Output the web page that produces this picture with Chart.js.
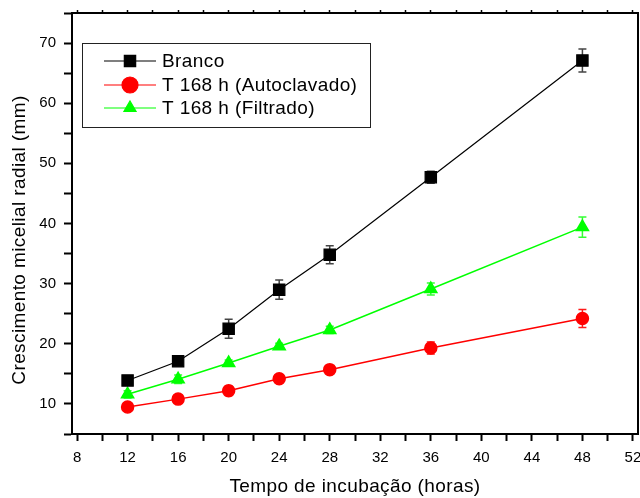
<!DOCTYPE html>
<html>
<head>
<meta charset="utf-8">
<script src="https://cdn.jsdelivr.net/npm/chart.js@4/dist/chart.umd.min.js"></script>
<style>
  html, body { margin: 0; padding: 0; background: #fff; }
  #wrap { width: 640px; height: 498px; }
</style>
</head>
<body>
<div id="wrap"><canvas id="chart" width="640" height="498"></canvas></div>
<script>
// incubation times (h)
const hours = [12, 16, 20, 24, 28, 36, 48];

// radial mycelial growth (mm) and standard errors
const branco = [13.9, 17.1, 22.5, 29.0, 34.8, 47.7, 67.1];
const brancoErr = [0.5, 0.5, 1.6, 1.6, 1.5, 1.0, 1.9];
const autoclavado = [9.5, 10.8, 12.2, 14.2, 15.7, 19.3, 24.2];
const autoclavadoErr = [0.4, 0.5, 0.8, 0.6, 0.5, 1.0, 1.5];
const filtrado = [11.6, 14.1, 16.8, 19.6, 22.3, 29.1, 39.4];
const filtradoErr = [0.6, 0.7, 0.5, 0.5, 0.6, 1.0, 1.7];

const seriesNames = ['Branco', 'T 168 h (Autoclavado)', 'T 168 h (Filtrado)'];

const xTitle = 'Tempo de incubação (horas)';
const yTitle = 'Crescimento micelial radial (mm)';

const FONT = '"Liberation Sans", Arial, Helvetica, sans-serif';

function pts(values) {
  return values.map((v, i) => ({ x: hours[i], y: v }));
}

// fixed axis thickness, no extra room for overhanging labels
function fixSize(size) {
  return s => {
    if (s.isHorizontal()) s.height = size; else s.width = size;
    s.paddingLeft = s.paddingRight = s.paddingTop = s.paddingBottom = 0;
  };
}

const errors = [brancoErr, autoclavadoErr, filtradoErr];
const errColors = ['#444444', '#ff1a1a', '#33ff33'];

// vertical error bars with caps, under the markers
const errorBars = {
  id: 'errorBars',
  beforeDatasetsDraw(chart) {
    const ctx = chart.ctx;
    const xs = chart.scales.x, ys = chart.scales.y;
    ctx.save();
    chart.data.datasets.forEach((ds, i) => {
      const err = errors[i];
      ctx.strokeStyle = errColors[i];
      ctx.lineWidth = 1.5;
      ds.data.forEach((p, j) => {
        const px = xs.getPixelForValue(p.x);
        const top = ys.getPixelForValue(p.y + err[j]);
        const bot = ys.getPixelForValue(p.y - err[j]);
        ctx.beginPath();
        ctx.moveTo(px, top); ctx.lineTo(px, bot);
        ctx.moveTo(px - 4, top); ctx.lineTo(px + 4, top);
        ctx.moveTo(px - 4, bot); ctx.lineTo(px + 4, bot);
        ctx.stroke();
      });
    });
    ctx.restore();
  }
};

// axis titles and boxed legend
const decorations = {
  id: 'decorations',
  afterDraw(chart) {
    const ctx = chart.ctx;
    ctx.save();
    ctx.fillStyle = '#000';
    ctx.font = '19px ' + FONT;
    ctx.letterSpacing = '0.4px';
    ctx.textAlign = 'center';
    ctx.textBaseline = 'middle';
    ctx.fillText(xTitle, 355, 487);
    ctx.translate(20, 240);
    ctx.rotate(-Math.PI / 2);
    ctx.fillText(yTitle, 0, 0);
    ctx.restore();

    // legend box
    ctx.save();
    ctx.strokeStyle = '#222';
    ctx.lineWidth = 1;
    ctx.strokeRect(82.5, 43.5, 288, 84);
    const rows = [61, 85, 108];
    ctx.font = '19px ' + FONT;
    ctx.letterSpacing = '0.4px';
    ctx.textAlign = 'left';
    ctx.textBaseline = 'middle';
    chart.data.datasets.forEach((ds, i) => {
      const y = rows[i];
      ctx.strokeStyle = ds.borderColor;
      ctx.lineWidth = 1.2;
      ctx.beginPath();
      ctx.moveTo(104, y); ctx.lineTo(156, y);
      ctx.stroke();
      ctx.fillStyle = ds.pointBackgroundColor;
      ctx.strokeStyle = ds.pointBorderColor;
      Chart.helpers.drawPoint(ctx, {
        pointStyle: ds.pointStyle,
        radius: i === 1 ? 8 : ds.pointRadius,
        rotation: 0,
        borderWidth: 1
      }, 130, y);
      ctx.fillStyle = '#000';
      ctx.fillText(seriesNames[i], 162, y + 1);
    });
    ctx.restore();
  }
};

const tickFont = { family: FONT, size: 15 };

new Chart(document.getElementById('chart'), {
  type: 'line',
  data: {
    datasets: [
      {
        label: seriesNames[0],
        data: pts(branco),
        borderColor: '#000000',
        borderWidth: 1.2,
        pointStyle: 'rect',
        pointRadius: 8,
        pointBackgroundColor: '#000000',
        pointBorderColor: '#000000'
      },
      {
        label: seriesNames[1],
        data: pts(autoclavado),
        borderColor: '#ff0000',
        borderWidth: 1.5,
        pointStyle: 'circle',
        pointRadius: 6,
        pointBackgroundColor: '#ff0000',
        pointBorderColor: '#ff0000'
      },
      {
        label: seriesNames[2],
        data: pts(filtrado),
        borderColor: '#00ff00',
        borderWidth: 1.5,
        pointStyle: 'triangle',
        pointRadius: 7,
        pointBackgroundColor: '#00ff00',
        pointBorderColor: '#00ff00'
      }
    ]
  },
  options: {
    responsive: false,
    animation: false,
    events: [],
    layout: { padding: 0, autoPadding: false },
    plugins: {
      legend: { display: false },
      tooltip: { enabled: false }
    },
    scales: {
      x: {
        type: 'linear',
        position: 'bottom',
        min: 7.6,
        max: 52.4,
        afterFit: fixSize(64),
        border: { color: '#000', width: 2 },
        grid: { drawOnChartArea: false, tickLength: 7, tickColor: '#000', tickWidth: 2 },
        ticks: {
          stepSize: 2,
          includeBounds: false,
          maxRotation: 0,
          autoSkip: false,
          padding: 8,
          color: '#000',
          font: tickFont,
          callback: v => (v % 4 === 0 ? String(v) : '')
        }
      },
      xTop: {
        type: 'linear',
        position: 'top',
        min: 7.6,
        max: 52.4,
        afterFit: fixSize(13),
        border: { color: '#000', width: 2 },
        grid: { drawOnChartArea: false, tickLength: 3, tickColor: '#000', tickWidth: 1.5 },
        ticks: { stepSize: 2, includeBounds: false, display: false }
      },
      y: {
        type: 'linear',
        position: 'left',
        min: 5,
        max: 75,
        afterFit: fixSize(72),
        border: { color: '#000', width: 2 },
        grid: { drawOnChartArea: false, tickLength: 8, tickColor: '#000', tickWidth: 2 },
        ticks: {
          stepSize: 5,
          includeBounds: false,
          autoSkip: false,
          padding: 8,
          color: '#000',
          font: tickFont,
          callback: v => (v % 10 === 0 ? String(v) : '')
        }
      },
      yRight: {
        type: 'linear',
        position: 'right',
        min: 5,
        max: 75,
        afterFit: fixSize(2),
        border: { color: '#000', width: 2 },
        grid: { drawOnChartArea: false, drawTicks: false },
        ticks: { display: false }
      }
    }
  },
  plugins: [errorBars, decorations]
});
</script>
</body>
</html>
